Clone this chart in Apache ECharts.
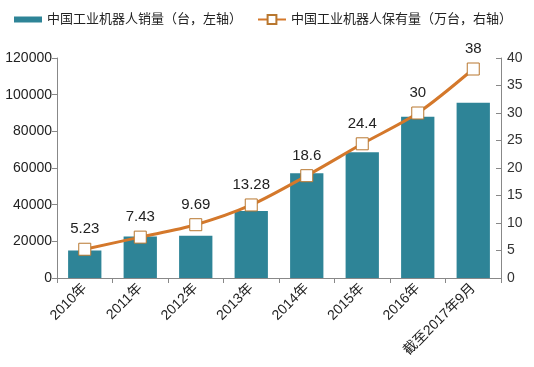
<!DOCTYPE html>
<html><head><meta charset="utf-8">
<script src="https://cdn.jsdelivr.net/npm/echarts@6/dist/echarts.min.js"></script>
<style>html,body{margin:0;padding:0;background:#fff}#c{width:534px;height:367px}</style>
</head><body><div id="c"></div>
<script>
const categories = ['2010年','2011年','2012年','2013年','2014年','2015年','2016年','截至2017年9月'];
const salesValues = [14978, 22577, 22987, 36560, 57096, 68556, 88000, 95600];
const stockValues = [5.23, 7.43, 9.69, 13.28, 18.6, 24.4, 30, 38];
const leftTicks = {min: 0, max: 120000, interval: 20000};
const rightTicks = {min: 0, max: 40, interval: 5};
const barName = '中国工业机器人销量（台，左轴）';
const lineName = '中国工业机器人保有量（万台，右轴）';

const font = 'Arial, "Liberation Sans", "Noto Sans CJK SC", sans-serif';
const chart = echarts.init(document.getElementById('c'));
chart.setOption({
  animation: false,
  textStyle: {fontFamily: font},
  legend: [
    {top: 8, left: 9, itemGap: 4,
     textStyle: {fontSize: 13, color: '#222', fontFamily: font},
     data: [{name: barName, icon: 'rect', itemStyle: {color: '#2e8497'}}],
     itemWidth: 28, itemHeight: 6},
    {top: 8, left: 252,
     textStyle: {fontSize: 13, color: '#222', fontFamily: font},
     data: [{name: lineName}],
     itemWidth: 28, itemHeight: 11}
  ],
  grid: {left: 57, right: 33, top: 58, bottom: 89},
  xAxis: {
    type: 'category', data: categories,
    axisLine: {lineStyle: {color: '#888'}},
    axisTick: {show: true, lineStyle: {color: '#888'}},
    axisLabel: {rotate: 45, fontSize: 14, color: '#222', margin: 8, interval: 0}
  },
  yAxis: [
    {type: 'value', min: leftTicks.min, max: leftTicks.max, interval: leftTicks.interval,
     splitLine: {show: false},
     axisLine: {show: true, lineStyle: {color: '#888'}},
     axisTick: {show: true, lineStyle: {color: '#888'}},
     axisLabel: {fontSize: 14, color: '#222', margin: 5, formatter: v => String(v)}},
    {type: 'value', min: rightTicks.min, max: rightTicks.max, interval: rightTicks.interval,
     splitLine: {show: false},
     axisLine: {show: true, lineStyle: {color: '#888'}},
     axisTick: {show: true, inside: true, lineStyle: {color: '#888'}},
     axisLabel: {fontSize: 14, color: '#333', margin: 6}}
  ],
  series: [
    {name: barName, type: 'bar', data: salesValues, barWidth: '60%',
     itemStyle: {color: '#2e8497'}},
    {name: lineName, type: 'line', yAxisIndex: 1, data: stockValues,
     smooth: 0.3, symbol: 'rect', symbolSize: 12,
     lineStyle: {color: '#d4782b', width: 3},
     itemStyle: {color: '#fff', borderColor: '#b8772f', borderWidth: 1},
     label: {show: true, position: 'top', distance: 6, fontSize: 15, color: '#222'}}
  ]
});
</script></body></html>
